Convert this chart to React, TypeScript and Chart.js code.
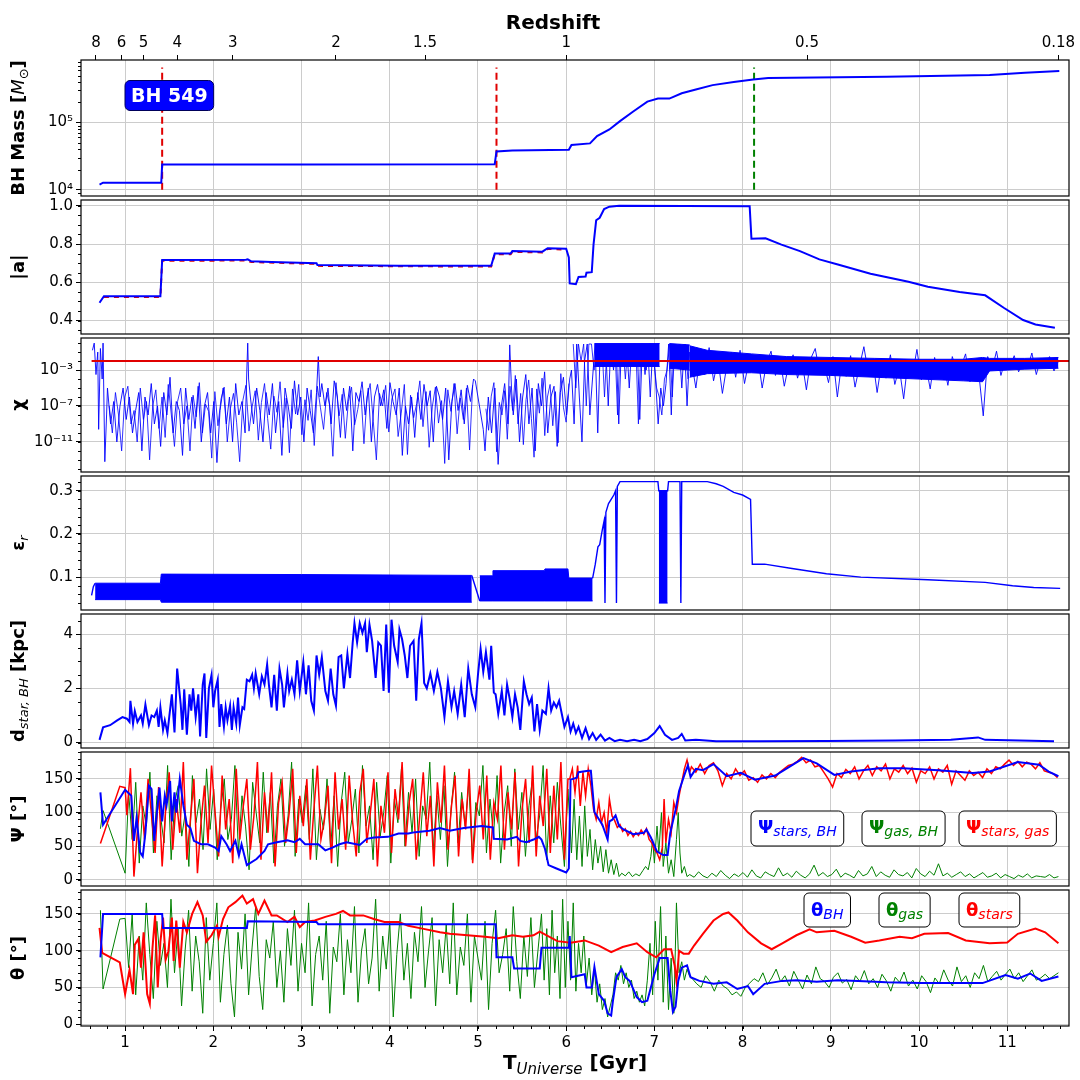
import { useEffect, useRef } from "react";
import { Chart, registerables } from "chart.js";

Chart.register(...registerables);

type XY = [number, number];
type Band = [number, number, number];
type Part = { t: string; f: string; c?: string; dy?: number };

const FONT = "'DejaVu Sans', sans-serif";
const BLUE = "#0000ff";
const RED = "#ff0000";
const GREEN = "#008000";
const GRID = "#cccccc";

// shared time axis (Gyr) and the redshift ticks on top
const tMin = 0.5;
const tMax = 11.7;
const tTicks = [1, 2, 3, 4, 5, 6, 7, 8, 9, 10, 11];
const zLabels = ["8", "6", "5", "4", "3", "2", "1.5", "1", "0.5", "0.18"];
const zAtT = [0.67, 0.96, 1.21, 1.59, 2.22, 3.39, 4.4, 6.0, 8.73, 11.58];

// --- BH mass
const massTicks = [1e4, 1e5];
const bhMass: XY[] = [
  [0.71, 1.2e4], [0.75, 1.28e4], [1.41, 1.28e4], [1.42, 2.37e4], [3.0, 2.39e4], [5.19, 2.4e4],
  [5.21, 3.72e4], [5.39, 3.85e4], [6.03, 3.95e4], [6.06, 4.65e4], [6.27, 4.9e4], [6.35, 6.3e4],
  [6.49, 7.9e4], [6.61, 1.05e5], [6.76, 1.46e5], [6.92, 2.05e5], [7.04, 2.27e5], [7.17, 2.27e5],
  [7.31, 2.72e5], [7.47, 3.1e5], [7.66, 3.6e5], [7.9, 4.0e5], [8.12, 4.35e5], [8.29, 4.6e5],
  [9.63, 4.8e5], [10.8, 5.1e5], [11.2, 5.5e5], [11.59, 5.85e5],
];
const mergerA: XY[] = [[1.42, 1e4], [1.42, 6.6e5]];
const mergerB: XY[] = [[5.21, 1e4], [5.21, 6.6e5]];
const mergerC: XY[] = [[8.13, 1e4], [8.13, 6.6e5]];

// --- spin |a|
const spinTicks = [0.4, 0.6, 0.8, 1.0];
const spinBH: XY[] = [
  [0.71, 0.493], [0.76, 0.527], [1.4, 0.527], [1.42, 0.716], [2.37, 0.718], [2.39, 0.72], [2.43, 0.71],
  [2.66, 0.706], [3.17, 0.7], [3.18, 0.69], [4.1, 0.686], [5.15, 0.686], [5.19, 0.75], [5.37, 0.75],
  [5.39, 0.763], [5.73, 0.76], [5.79, 0.778], [6.0, 0.775], [6.03, 0.73], [6.04, 0.594], [6.11, 0.59],
  [6.14, 0.628], [6.22, 0.63], [6.23, 0.65], [6.29, 0.653], [6.31, 0.797], [6.34, 0.924], [6.38, 0.937],
  [6.43, 0.983], [6.49, 0.995], [6.6, 1.0], [8.08, 0.997], [8.1, 0.828], [8.26, 0.83], [8.44, 0.797],
  [8.65, 0.763], [8.87, 0.72], [9.09, 0.692], [9.45, 0.645], [9.88, 0.603], [10.1, 0.577],
  [10.46, 0.549], [10.75, 0.532], [10.96, 0.467], [11.18, 0.403], [11.32, 0.38], [11.54, 0.363],
];
const spinAlt: XY[] = [
  [0.76, 0.523], [1.4, 0.523], [1.42, 0.712], [2.37, 0.714], [2.43, 0.706], [3.17, 0.696], [3.18, 0.686],
  [5.15, 0.682], [5.19, 0.746], [5.37, 0.746], [5.39, 0.759], [5.73, 0.756], [5.79, 0.774], [6.0, 0.771],
];

// --- chi (log10 values)
const chiTicks = [1e-11, 1e-7, 1e-3];
const chiLimit: XY[] = [[0.62, 0.01], [11.7, 0.01]];
const chiHead: XY[] = [
  [0.63, -0.8], [0.65, 0], [0.67, -3.5], [0.69, -1], [0.7, -9.6], [0.72, -0.6], [0.74, -4], [0.75, 0],
  [0.77, -13.2], [0.79, -8],
];
const chiA = [
  -5, -9, -6.5, -11, -7, -5, -8.5, -6, -10, -7.5, -5.5, -12, -6, -8, -4.5, -9, -7, -11.5, -5.5, -8, -3.8,
  -10, -6.5, -7.5, -12.5, -5, -8.5, -6, -9.5, -4.8, -11, -7, -5.5, -10, -6.5, -13.3, -7.5, -5, -9, -6, -11,
  -4.5, -8, -6.5, -10,
];
const chiSpikeA: XY[] = [[2.38, -3], [2.39, 0], [2.4, -4]];
const chiB = [
  -6, -9, -5, -7.5, -11, -5.5, -8, -4.5, -10, -6.5, -12.5, -5, -7, -9.5, -4.2, -8, -6, -11, -5, -7.5, -10, -5.5,
];
const chiSpikeB: XY[] = [[3.19, -1.5], [3.21, -6]];
const chiC = [
  -4.5, -7, -5, -9, -4.2, -6, -10.5, -5, -7.5, -4.8, -12, -5.5, -6.5, -4.3, -8, -5, -11, -6, -4.6, -7, -5.2,
  -9.5, -4.4, -6.5, -8, -5, -12.5, -7, -9, -6, -10.5, -5.5, -8.5, -4.6, -7, -5.3, -11, -4.8, -6, -8.5, -5,
  -13, -6.5, -4.5, -7.5, -5.2, -9, -4.7, -6.5, -4,
];
const chiSmooth: XY[] = [[4.97, -4.2], [5.06, -9.6]];
const chiD = [-12, -6, -10, -5, -13.5, -7, -4.5, -9];
const chiSpikeC: XY[] = [[5.36, -0.2], [5.38, -5]];
const chiE = [-8, -4, -11, -6, -3.5, -9, -5, -12, -4.5, -7, -3.2, -10, -6, -4.8, -11.5, -5.5, -3.8, -8, -4];
const chiF = [
  -3, -9, -0.1, -6, -11, -2, -0.1, -8, -4, -0.1, -10, -0.1, -2.5, -0.1, -7, -0.1, -3, -0.1, -9, -0.1, -1.5,
  -0.1, -5, -0.1, -2, -0.1, -8.5, -0.1, -3.5, -0.1, -6, -0.1, -4, -9, -5, -7, -4.5, -0.1, -8, -0.1, -2,
  -0.1, -5, -0.1, -7, -1,
];
const chiG = [
  -2, -5, -1.2, -3.5, -0.5, -4.2, -1.8, -5.6, -2.5, -1, -3.8, -0.8, -4.5, -2, -3.2, -1.5, -5, -2.2, -0.9, -3.6,
  -1.6, -4.8, -2.4, -1.3, -3.9, -2, -5.2, -1.7, -0.6, -3.4, -2.3, -4.4, -1.5, -6, -2.1, -3.7, -1.4, -4.9, -2.6, -0.4,
  -3.3, -1.8, -5.5, -2.2, -3.9, -1.3, -4.6, -2.7, -6.2, -1.9, -3.5, -0.7, -4.1, -2.4, -5.1, -1.6, -3.8, -2.2, -4.7, -1.5,
  -3.1, -2.6, -1.2, -4.3, -2, -3.4, -8.1, -1.5, -2.9, -0.9, -3.6, -1.8, -2.7, -1.4, -3.2, -2, -2.8, -1.1, -3.5, -1.7,
  -2.6, -1.5, -3.1, -2,
];
// second, interleaved pass of the dense early chi noise
const chiDenseEarly = [
  -7, -10, -5.5, -8, -12, -6, -4.8, -9, -7.5, -11,
  -5, -8.5, -6.5, -13, -7, -5.2, -9.5, -6, -10.5, -4.6,
  -8, -11.5, -6.5, -5, -9, -7, -12, -5.8, -8.2, -4.4,
  -10, -6.8, -7.6, -12.8, -5.4, -9.2, -6.2, -4.9, -11, -7.3,
  -5.6, -8.8, -13.2, -6.4, -4.7, -9.8, -7.1, -5.3, -10.8, -6.6,
  -4.5, -8.4, -11.8, -5.9, -7.7, -4.3, -9.4, -6.1, -12.2, -5.1,
  -7.9, -4.6, -10.2, -6.3, -8.6, -5.2, -11.4, -4.8, -7.2, -9.6,
  -5.5, -6.9, -12.6, -4.4, -8.1, -5.7, -10.6, -6.5, -4.9, -9.1,
  -7.4, -5.3, -11.2, -6, -4.5, -8.7, -13, -5.6, -7, -4.7,
  -9.9, -6.2, -5.1, -10.4, -7.8, -4.6, -12.4, -5.8, -8.3, -6.7,
  -4.2, -9.3, -5.4, -11.6, -7.1, -4.9, -8.9, -6.4, -13.4, -5.2,
  -7.6, -4.5, -10.1, -6.1, -8.5, -5, -11.9, -4.7, -7.3, -9.7,
  -5.9, -4.4, -12.1, -6.6, -8, -5.3, -10.7, -4.8, -7.5, -3.6,
  -9, -5.6, -11.3, -6.3, -4.1, -8.4, -12.7, -5.1, -7.8, -3.9,
  -10.3, -6, -4.6, -9.2, -5.4, -11.1, -3.4, -7.2, -8.8, -4.5,
];
const chiDenseMid = [
  -0.1, -5, -0.1, -2, -0.1, -7, -0.1, -0.1, -3, -0.1, -1, -0.1, -6, -0.1, -0.1, -2.5, -0.1, -8, -0.1, -0.1,
  -4, -0.1, -1.5, -0.1, -0.1, -9, -0.1, -0.1, -3, -0.1, -0.1, -2, -5, -6, -8, -4, -3, -0.1, -6, -0.1,
  -1, -0.1, -3, -0.1, -4,
];
// saturated blocks (dense core of the noise)
const chiBlockA: Band[] = [[6.32, -2.6, -0.05], [7.06, -2.6, -0.05]];
const chiBlockB: Band[] = [[7.17, -2.8, -0.05], [7.4, -3.0, -0.2]];
const chiBand: Band[] = [
  [7.4, -3.8, -0.3], [7.6, -3.4, -0.8], [8.1, -3.3, -1.2], [8.5, -3.5, -1.5], [9.0, -3.6, -1.6],
  [9.5, -3.8, -1.7], [10.0, -4.0, -1.8], [10.5, -4.2, -1.8], [10.72, -4.3, -1.6], [10.8, -3.1, -1.7],
  [11.2, -2.9, -1.7], [11.58, -2.8, -1.6],
];

// --- radiative efficiency
const epsTicks = [0.1, 0.2, 0.3];
const epsBandA: Band[] = [
  [0.66, 0.048, 0.086], [1.4, 0.048, 0.086], [1.41, 0.042, 0.107], [3.0, 0.042, 0.106], [4.93, 0.042, 0.104],
];
const epsBandB: Band[] = [
  [5.02, 0.045, 0.103], [5.16, 0.045, 0.103], [5.17, 0.045, 0.115], [5.75, 0.045, 0.115], [5.76, 0.045, 0.119],
  [6.02, 0.045, 0.119], [6.03, 0.045, 0.098], [6.3, 0.045, 0.098],
];
const epsBandC: Band[] = [[7.05, 0.04, 0.3], [7.15, 0.04, 0.3]];
const epsHead: XY[] = [[0.62, 0.058], [0.64, 0.078], [0.66, 0.086]];
const epsGap: XY[] = [[4.93, 0.104], [5.02, 0.045]];
const epsTail: XY[] = [
  [6.3, 0.098], [6.33, 0.13], [6.36, 0.17], [6.38, 0.175], [6.41, 0.21], [6.43, 0.23], [6.44, 0.24],
  [6.44, 0.04], [6.45, 0.25], [6.48, 0.27], [6.51, 0.28], [6.54, 0.29], [6.56, 0.3], [6.57, 0.04],
  [6.58, 0.31], [6.61, 0.321], [7.04, 0.321], [7.05, 0.3], [7.15, 0.3], [7.16, 0.321], [7.29, 0.321],
  [7.3, 0.04], [7.31, 0.321], [7.6, 0.321], [7.7, 0.316], [7.78, 0.31], [7.9, 0.296], [8.0, 0.29],
  [8.09, 0.28], [8.11, 0.13], [8.25, 0.13], [8.56, 0.12], [8.95, 0.108], [9.34, 0.1], [10.1, 0.094],
  [10.75, 0.088], [11.06, 0.08], [11.3, 0.076], [11.6, 0.074],
];

// --- star-BH distance
const dTicks = [0, 2, 4];
const dStarBH: XY[] = [
  [0.71, 0.1], [0.75, 0.56], [0.83, 0.64], [0.91, 0.82], [0.97, 0.94], [1.02, 0.88], [1.05, 0.76], [1.06, 1.54],
  [1.09, 0.7], [1.11, 1.16], [1.14, 0.76], [1.18, 1.0], [1.2, 0.7], [1.23, 1.4], [1.27, 0.64], [1.3, 1.0],
  [1.33, 0.94], [1.36, 1.18], [1.38, 0.58], [1.4, 1.3], [1.43, 0.47], [1.45, 0.82], [1.48, 0.35], [1.5, 0.94],
  [1.53, 1.78], [1.56, 0.37], [1.59, 2.73], [1.63, 1.42], [1.65, 0.47], [1.67, 1.96], [1.7, 0.29], [1.73, 1.78],
  [1.75, 1.18], [1.77, 2.0], [1.8, 0.94], [1.83, 1.78], [1.85, 0.23], [1.88, 2.14], [1.9, 2.55], [1.92, 0.17],
  [1.95, 2.0], [1.98, 2.5], [2.0, 1.3], [2.02, 1.9], [2.05, 2.32], [2.07, 0.58], [2.09, 1.42], [2.12, 0.58],
  [2.14, 1.3], [2.16, 0.82], [2.19, 1.36], [2.21, 0.47], [2.23, 1.3], [2.26, 0.7], [2.28, 1.66], [2.3, 0.64],
  [2.33, 1.3], [2.35, 1.24], [2.38, 2.32], [2.41, 2.26], [2.44, 2.5], [2.46, 2.0], [2.48, 2.55], [2.52, 1.78],
  [2.55, 2.44], [2.58, 2.14], [2.61, 2.88], [2.63, 2.14], [2.66, 1.3], [2.69, 2.5], [2.72, 1.18], [2.75, 2.73],
  [2.78, 2.14], [2.8, 1.3], [2.84, 2.55], [2.86, 1.9], [2.89, 2.32], [2.92, 1.78], [2.95, 3.03], [2.98, 1.9],
  [3.02, 2.97], [3.05, 1.78], [3.08, 2.85], [3.11, 1.54], [3.14, 1.18], [3.17, 3.21], [3.2, 2.5], [3.23, 3.15],
  [3.27, 1.9], [3.3, 1.54], [3.33, 2.73], [3.36, 1.78], [3.39, 1.36], [3.42, 3.15], [3.45, 3.21], [3.48, 2.0],
  [3.52, 3.27], [3.55, 2.38], [3.58, 3.69], [3.6, 4.4], [3.63, 3.69], [3.66, 4.4], [3.69, 4.05], [3.72, 4.4],
  [3.74, 3.33], [3.77, 4.35], [3.8, 3.75], [3.84, 2.38], [3.87, 3.69], [3.9, 3.57], [3.93, 1.9], [3.96, 4.35],
  [3.99, 1.84], [4.02, 4.53], [4.05, 3.57], [4.09, 2.97], [4.11, 4.17], [4.14, 3.81], [4.17, 3.21], [4.2, 2.38],
  [4.23, 3.57], [4.27, 3.75], [4.3, 1.54], [4.33, 3.81], [4.36, 4.4], [4.39, 2.2], [4.42, 2.0], [4.46, 2.55],
  [4.5, 1.9], [4.54, 2.61], [4.58, 2.0], [4.62, 0.94], [4.66, 2.26], [4.7, 1.3], [4.73, 1.9], [4.77, 1.06],
  [4.81, 2.14], [4.85, 0.94], [4.89, 2.73], [4.93, 1.78], [4.97, 1.3], [5.0, 2.5], [5.03, 3.45], [5.06, 2.61],
  [5.09, 3.33], [5.13, 2.32], [5.15, 3.57], [5.18, 1.84], [5.2, 1.78], [5.23, 1.06], [5.27, 1.9], [5.3, 1.0],
  [5.33, 2.14], [5.36, 1.6], [5.39, 0.94], [5.42, 1.78], [5.45, 1.3], [5.48, 0.47], [5.52, 2.26], [5.55, 1.78],
  [5.58, 1.42], [5.61, 1.66], [5.64, 0.41], [5.67, 1.42], [5.7, 0.47], [5.73, 1.18], [5.77, 1.06], [5.8, 2.0],
  [5.83, 1.18], [5.86, 1.48], [5.89, 1.3], [5.92, 1.54], [5.95, 1.06], [5.98, 0.58], [6.02, 0.94], [6.05, 0.41],
  [6.08, 0.7], [6.11, 0.35], [6.14, 0.58], [6.18, 0.17], [6.22, 0.53], [6.26, 0.13], [6.3, 0.35], [6.34, 0.1],
  [6.39, 0.29], [6.44, 0.07], [6.49, 0.17], [6.55, 0.05], [6.61, 0.1], [6.69, 0.05], [6.77, 0.1], [6.84, 0.05],
  [6.92, 0.13], [7.0, 0.35], [7.06, 0.61], [7.12, 0.29], [7.2, 0.1], [7.27, 0.17], [7.31, 0.32], [7.35, 0.08],
  [7.47, 0.1], [7.7, 0.05], [8.17, 0.05], [8.95, 0.06], [9.73, 0.08], [10.36, 0.1], [10.67, 0.19], [10.75, 0.1],
  [11.53, 0.05],
];

// --- Psi angles (deg)
const angTicks = [0, 50, 100, 150];
const psiStarsBH: XY[] = [
  [0.72, 130], [0.75, 82], [1.0, 134], [1.07, 125], [1.1, 58], [1.13, 92], [1.17, 41], [1.2, 35], [1.23, 70],
  [1.27, 140], [1.3, 135], [1.33, 58], [1.36, 100], [1.39, 137], [1.42, 87], [1.45, 125], [1.47, 111],
  [1.51, 147], [1.53, 87], [1.56, 130], [1.58, 100], [1.62, 150], [1.66, 111], [1.7, 82], [1.74, 77],
  [1.78, 58], [1.86, 53], [1.94, 53], [2.02, 48], [2.06, 43], [2.09, 65], [2.15, 53], [2.19, 43], [2.25, 58],
  [2.29, 36], [2.32, 53], [2.38, 22], [2.49, 31], [2.58, 43], [2.62, 53], [2.72, 56], [2.84, 59], [2.92, 56],
  [2.98, 61], [3.04, 53], [3.19, 53], [3.27, 44], [3.35, 48], [3.43, 53], [3.51, 56], [3.66, 52], [3.74, 61],
  [3.82, 63], [3.98, 64], [4.1, 69], [4.21, 69], [4.29, 71], [4.45, 73], [4.57, 77], [4.68, 73], [4.84, 77],
  [5.04, 80], [5.17, 78], [5.18, 61], [5.33, 60], [5.44, 64], [5.48, 58], [5.55, 56], [5.63, 60], [5.69, 64],
  [5.72, 60], [5.76, 46], [5.8, 22], [5.89, 17], [6.0, 11], [6.03, 17], [6.05, 149], [6.12, 152], [6.14, 160],
  [6.25, 162], [6.28, 162], [6.32, 101], [6.41, 82], [6.47, 60], [6.49, 87], [6.52, 89], [6.56, 96], [6.6, 80],
  [6.65, 75], [6.76, 68], [6.88, 70], [6.91, 75], [6.96, 63], [7.03, 42], [7.1, 37], [7.15, 37], [7.18, 70],
  [7.24, 104], [7.28, 132], [7.34, 156], [7.38, 170], [7.41, 153], [7.47, 165], [7.55, 163], [7.67, 172],
  [7.82, 154], [7.98, 159], [8.14, 149], [8.37, 155], [8.69, 181], [8.84, 173], [9.04, 156], [9.23, 161],
  [9.55, 166], [9.82, 166], [10.22, 163], [10.61, 159], [10.8, 161], [11.12, 175], [11.36, 171], [11.47, 161],
  [11.58, 154],
];
const psiSGHead: XY[] = [[0.72, 54], [0.94, 139], [1.0, 137]];
const psiSGNoisy = [
  96, 166, 5, 74, 130, 60, 150, 95, 40, 138, 20, 105, 160, 45, 120, 70, 175, 30, 90, 150,
  10, 85, 140, 55, 170, 100, 35, 155, 75, 120, 25, 165, 60, 110, 150, 45, 95, 175, 30, 130,
  70, 160, 20, 115, 145, 55, 100, 165, 40, 125, 80, 150, 30, 105, 170, 60, 90, 140, 25, 160,
  75, 120, 45, 155, 85, 35, 130, 165, 55, 100, 150, 20, 110, 70, 160, 40, 135, 90, 175, 50,
  115, 150, 30, 95, 160, 65, 125, 20, 145, 85, 170, 45, 110, 155, 35, 120, 75, 165, 25, 100,
  140, 60, 155, 30, 115, 90, 170, 45, 130, 75, 160, 20, 105, 150, 55, 170, 35, 125, 80, 165,
  40, 140, 60, 175, 30, 150,
];
const psiSGMid: XY[] = [
  [6.04, 150], [6.07, 165], [6.1, 130], [6.13, 170], [6.16, 110], [6.19, 160], [6.22, 125], [6.25, 165],
  [6.28, 140], [6.31, 105], [6.34, 90], [6.37, 115], [6.4, 85], [6.43, 100], [6.46, 70], [6.49, 120],
  [6.52, 95], [6.55, 88], [6.58, 78], [6.61, 82], [6.64, 72], [6.67, 76], [6.7, 66], [6.73, 72], [6.76, 64],
  [6.79, 70], [6.82, 66], [6.85, 74], [6.88, 68], [6.91, 76], [6.94, 60], [6.97, 55], [7.0, 45], [7.03, 40],
  [7.06, 30], [7.09, 48], [7.11, 120], [7.13, 55], [7.16, 90], [7.19, 70], [7.22, 115], [7.25, 100],
  [7.28, 125], [7.31, 145], [7.34, 165], [7.37, 178], [7.4, 160],
];
const psiSGLate = [
  168, 160, 172, 158, 170, 174, 162, 140, 158, 150, 165, 155, 162, 148, 152, 145, 156, 150, 158, 152,
  160, 165, 170, 172, 176, 182, 174, 178, 168, 170, 160, 150, 138, 158, 152, 164, 158, 168, 150, 162,
  170, 155, 168, 162, 172, 150, 165, 160, 170, 158, 166, 145, 162, 158, 168, 150, 165, 160, 170, 142,
  162, 155, 148, 162, 155, 160, 152, 165, 158, 168, 165, 172, 178, 170, 176, 168, 175, 172, 165, 174,
  162, 160, 158, 152,
];
const psiGasHead: XY[] = [[0.72, 76], [0.75, 103], [1.0, 10]];
const psiGasNoisy = [
  130, 60, 145, 25, 110, 80, 160, 40, 125, 95, 55, 170, 30, 115, 140, 65, 100, 20, 155, 85,
  120, 45, 165, 75, 135, 30, 105, 150, 60, 90, 170, 40, 125, 80, 15, 145, 100, 55, 160, 70,
  130, 25, 110, 150, 50, 95, 175, 35, 120, 85, 140, 60, 165, 30, 105, 75, 150, 45, 125, 20,
  115, 160, 55, 90, 135, 40, 170, 80, 110, 30, 145, 65, 100, 155, 25, 120, 85, 165, 50, 130,
  70, 150, 35, 110, 90, 175, 45, 125, 60, 140, 20, 105, 160, 55, 130, 80, 145, 30, 115, 95,
  170, 40, 120, 65, 155, 25, 100, 140, 50, 165, 75, 130, 35, 110, 150, 60, 95, 170, 30, 125,
  55, 145, 80, 20, 135,
];
const psiGasMid: XY[] = [
  [6.06, 40], [6.09, 120], [6.12, 30], [6.15, 95], [6.18, 20], [6.21, 110], [6.24, 35], [6.27, 75],
  [6.3, 15], [6.33, 60], [6.36, 25], [6.39, 50], [6.42, 12], [6.45, 45], [6.48, 10], [6.51, 30], [6.54, 8],
  [6.57, 25], [6.6, 5], [6.63, 10], [6.67, 6], [6.71, 12], [6.75, 5], [6.79, 9], [6.83, 6], [6.87, 14],
  [6.9, 20], [6.93, 15], [6.96, 35], [6.98, 60], [7.0, 25], [7.03, 80], [7.05, 40], [7.08, 100], [7.1, 20],
  [7.13, 55], [7.16, 10], [7.19, 30], [7.22, 5], [7.25, 60], [7.27, 100], [7.29, 40], [7.31, 10],
  [7.34, 20], [7.37, 5],
];
const psiGasLate = [
  8, 4, 12, 6, 3, 10, 5, 14, 7, 2, 9, 5, 11, 4, 15, 6, 3, 12, 8, 5,
  18, 6, 10, 4, 13, 7, 3, 9, 22, 6, 11, 5, 8, 16, 4, 10, 7, 3, 14, 6,
  9, 20, 5, 12, 7, 4, 15, 8, 6, 11, 3, 17, 9, 5, 13, 7, 24, 6, 10, 4,
  8, 12, 5, 9, 3, 7, 11, 4, 6, 10, 3, 8, 5, 2, 7, 4, 9, 3, 6, 5,
  4, 8, 3, 5,
];

// --- theta angles (deg)
const thetaBH: XY[] = [
  [0.72, 91], [0.75, 150], [1.42, 150], [1.43, 131], [2.38, 131], [2.39, 140], [3.17, 139], [3.19, 136],
  [5.2, 136], [5.21, 91], [5.39, 91], [5.41, 76], [5.7, 76], [5.72, 104], [6.03, 104], [6.04, 120],
  [6.06, 64], [6.21, 68], [6.23, 50], [6.29, 50], [6.32, 78], [6.37, 41], [6.43, 32], [6.47, 15], [6.51, 12],
  [6.53, 32], [6.57, 64], [6.63, 75], [6.67, 64], [6.72, 59], [6.8, 37], [6.86, 30], [6.92, 32], [7.0, 68],
  [7.06, 90], [7.15, 90], [7.18, 46], [7.21, 17], [7.24, 24], [7.27, 59], [7.31, 77], [7.37, 80],
  [7.41, 64], [7.51, 59], [7.67, 55], [7.82, 57], [7.94, 48], [8.06, 52], [8.12, 41], [8.25, 55],
  [8.45, 59], [8.61, 60], [8.84, 58], [9.08, 60], [9.31, 59], [9.63, 57], [10.02, 56], [10.72, 56],
  [10.98, 67], [11.12, 62], [11.26, 69], [11.39, 59], [11.58, 65],
];
const thetaStars: XY[] = [
  [0.71, 131], [0.74, 97], [0.94, 84], [1.0, 41], [1.05, 74], [1.09, 41], [1.11, 108], [1.15, 116],
  [1.18, 77], [1.21, 125], [1.25, 41], [1.28, 28], [1.31, 103], [1.34, 148], [1.37, 50], [1.4, 112],
  [1.43, 145], [1.46, 88], [1.49, 99], [1.53, 145], [1.55, 86], [1.58, 141], [1.62, 77], [1.66, 139],
  [1.7, 125], [1.76, 150], [1.82, 166], [1.88, 148], [1.92, 112], [1.98, 121], [2.04, 134], [2.06, 119],
  [2.11, 143], [2.17, 159], [2.25, 166], [2.33, 175], [2.38, 164], [2.45, 170], [2.51, 150], [2.58, 168],
  [2.66, 148], [2.72, 148], [2.84, 139], [2.92, 146], [2.98, 132], [3.04, 139], [3.15, 141], [3.27, 146],
  [3.39, 150], [3.47, 154], [3.55, 148], [3.7, 148], [3.82, 143], [3.94, 139], [4.1, 139], [4.21, 134],
  [4.37, 130], [4.57, 125], [4.68, 123], [4.88, 121], [5.08, 119], [5.23, 117], [5.39, 121], [5.51, 119],
  [5.63, 121], [5.7, 126], [5.9, 113], [6.05, 111], [6.21, 114], [6.37, 107], [6.51, 98], [6.64, 105],
  [6.8, 110], [6.92, 98], [7.02, 91], [7.11, 102], [7.19, 102], [7.23, 80], [7.25, 59], [7.27, 85],
  [7.28, 100], [7.33, 96], [7.39, 96], [7.45, 107], [7.55, 123], [7.67, 141], [7.78, 150], [7.84, 152],
  [7.94, 141], [8.06, 125], [8.21, 110], [8.33, 102], [8.45, 110], [8.61, 121], [8.76, 129], [8.84, 125],
  [9.04, 127], [9.23, 119], [9.39, 111], [9.55, 114], [9.78, 119], [9.92, 117], [10.06, 123], [10.33, 124],
  [10.53, 114], [10.8, 110], [11.0, 111], [11.12, 123], [11.32, 130], [11.43, 125], [11.58, 110],
];
const thetaGasHead: XY[] = [[0.72, 155], [0.75, 48], [0.94, 143], [1.0, 144]];
const thetaGasNoisy = [
  77, 150, 40, 120, 60, 165, 95, 35, 140, 80, 110, 50, 170, 70, 130, 25, 100, 155, 45, 120,
  85, 15, 145, 60, 110, 165, 30, 95, 135, 55, 10, 125, 75, 150, 40, 105, 160, 65, 20, 115,
  90, 140, 50, 100, 30, 130, 80, 155, 45, 110, 70, 165, 25, 95, 120, 60, 140, 15, 105, 85,
  150, 40, 115, 70, 160, 30, 100, 130, 55, 90, 170, 45, 120, 75, 140, 10, 95, 150, 60, 110,
  35, 125, 85, 160, 50, 100, 145, 25, 115, 70, 135, 55, 165, 40, 105, 80, 150, 30, 120, 90,
  60, 140, 20, 110, 155, 70, 95, 130, 45, 160, 85, 35, 120, 65, 145, 50, 100,
];
const thetaGasMid: XY[] = [
  [5.72, 150], [5.75, 60], [5.78, 130], [5.81, 40], [5.84, 155], [5.87, 70], [5.9, 120], [5.93, 35],
  [5.96, 170], [5.99, 50], [6.02, 140], [6.05, 60], [6.08, 165], [6.11, 45], [6.14, 110], [6.17, 70],
  [6.2, 120], [6.23, 55], [6.26, 90], [6.29, 40], [6.32, 75], [6.35, 30], [6.38, 55], [6.41, 20],
  [6.44, 35], [6.47, 10], [6.5, 25], [6.53, 40], [6.56, 70], [6.59, 60], [6.62, 80], [6.65, 55],
  [6.68, 70], [6.71, 50], [6.74, 60], [6.77, 35], [6.8, 45], [6.83, 30], [6.86, 40], [6.89, 25],
  [6.92, 60], [6.95, 110], [6.98, 40], [7.01, 140], [7.04, 60], [7.07, 160], [7.1, 30], [7.13, 120],
  [7.16, 20], [7.19, 90], [7.22, 15], [7.25, 165], [7.28, 70], [7.31, 85], [7.34, 60], [7.37, 75], [7.4, 65],
];
const thetaGasLate = [
  62, 55, 50, 66, 58, 45, 60, 52, 48, 40, 44, 38, 50, 56, 62, 58, 70, 54, 63, 75,
  58, 66, 52, 72, 60, 48, 67, 55, 78, 62, 58, 50, 64, 70, 56, 61, 47, 66, 58, 73,
  55, 62, 50, 68, 59, 45, 64, 57, 71, 52, 60, 48, 66, 58, 43, 63, 55, 74, 60, 52,
  78, 58, 66, 50, 70, 62, 80, 58, 65, 72, 60, 68, 75, 62, 70, 58, 66, 74, 60, 63,
  68, 62, 66, 70,
];

// ---------- helpers
const same = (v: number) => v;
const pow10 = (v: number) => 10 ** v;
const pts = (a: XY[], f = same) => a.map(([x, y]) => ({ x, y: f(y) }));
const spread = (t0: number, t1: number, vals: number[], f = same) =>
  vals.map((v, i) => ({ x: t0 + ((t1 - t0) * i) / (vals.length - 1), y: f(v) }));

const line = (data: any[], color: string, width: number, extra: any = {}) => ({
  data,
  borderColor: color,
  backgroundColor: color,
  borderWidth: width,
  pointRadius: 0,
  fill: false,
  tension: 0,
  ...extra,
});
const bandSets = (b: Band[], color: string, f = same) => [
  line(b.map(([x, lo]) => ({ x, y: f(lo) })), color, 1),
  line(b.map(([x, , hi]) => ({ x, y: f(hi) })), color, 1, { fill: "-1", backgroundColor: color }),
];

const SUP: Record<string, string> = {
  "-": "⁻", "0": "⁰", "1": "¹", "2": "²", "3": "³", "4": "⁴", "5": "⁵", "6": "⁶", "7": "⁷", "8": "⁸", "9": "⁹",
};
const pow10Label = (v: number) =>
  "10" + String(Math.round(Math.log10(v))).split("").map((c) => SUP[c]).join("");

const B18 = `bold 18px ${FONT}`;
const I18 = `italic 18px ${FONT}`;
const I13 = `italic 13px ${FONT}`;
const BOX_MAIN = `bold 18px ${FONT}`;
const BOX_SUB = `italic 14px ${FONT}`;

type Box = { x: number; cy: number; h: number; pad: number; base: number; parts: Part[]; fill: string; stroke: string };
type Panel = {
  key: string;
  yType: "linear" | "logarithmic";
  yMin: number;
  yMax: number;
  yTicks: number[];
  yFmt: (v: number) => string;
  minorStep?: number;
  minorLog?: number[];
  label: Part[];
  datasets: any[];
  boxes?: Box[];
};

const E = [60, 198, 336, 474, 612, 750, 888, 1026];

const psiBox = (x: number, sub: string, c: string): Box => ({
  x, cy: 828.5, h: 35, pad: 7, base: 4, fill: "rgba(255,255,255,0.85)", stroke: "#000",
  parts: [{ t: "Ψ", f: BOX_MAIN, c }, { t: sub, f: BOX_SUB, c, dy: 3.5 }],
});
const thBox = (x: number, sub: string, c: string): Box => ({
  x, cy: 910, h: 34, pad: 7, base: 6, fill: "rgba(255,255,255,0.85)", stroke: "#000",
  parts: [{ t: "θ", f: BOX_MAIN, c }, { t: sub, f: BOX_SUB, c, dy: 2.6 }],
});

const PANELS: Panel[] = [
  {
    key: "mass", yType: "logarithmic", yMin: 8.1e3, yMax: 8.5e5,
    yTicks: massTicks, yFmt: pow10Label, minorLog: [2, 3, 4, 5, 6, 7, 8, 9],
    label: [{ t: "BH Mass [", f: B18 }, { t: "M", f: I18 }, { t: "⊙", f: `13px ${FONT}`, dy: 4 }, { t: "]", f: B18 }],
    datasets: [
      line(pts(bhMass), BLUE, 2),
      line(pts(mergerA), "#e00000", 2, { borderDash: [7, 4] }),
      line(pts(mergerB), "#e00000", 2, { borderDash: [7, 4] }),
      line(pts(mergerC), GREEN, 2, { borderDash: [7, 4] }),
    ],
    boxes: [{
      x: 125, cy: 95.5, h: 30, pad: 6, base: 6.5, fill: BLUE, stroke: "#00005a",
      parts: [{ t: "BH 549", f: `bold 19px ${FONT}`, c: "#ffffff" }],
    }],
  },
  {
    key: "spin", yType: "linear", yMin: 0.33, yMax: 1.03,
    yTicks: spinTicks, yFmt: (v) => v.toFixed(1), minorStep: 0.05,
    label: [{ t: "|a|", f: B18 }],
    datasets: [line(pts(spinBH), BLUE, 2), line(pts(spinAlt), "#e00000", 2, { borderDash: [5, 5] })],
  },
  {
    key: "chi", yType: "logarithmic", yMin: 4.5e-15, yMax: 3.7,
    yTicks: chiTicks, yFmt: pow10Label, minorLog: [1],
    label: [{ t: "χ", f: B18 }],
    datasets: [
      line(pts(chiLimit), "#e00000", 2),
      line(
        [
          ...pts(chiHead, pow10),
          ...spread(0.8, 2.36, chiA, pow10),
          ...pts(chiSpikeA, pow10),
          ...spread(2.42, 3.17, chiB, pow10),
          ...pts(chiSpikeB, pow10),
          ...spread(3.23, 4.95, chiC, pow10),
          ...pts(chiSmooth, pow10),
          ...spread(5.08, 5.34, chiD, pow10),
          ...pts(chiSpikeC, pow10),
          ...spread(5.4, 6.04, chiE, pow10),
          ...spread(6.06, 7.4, chiF, pow10),
          ...spread(7.42, 11.58, chiG, pow10),
        ],
        BLUE,
        0.9,
      ),
      line(spread(0.82, 4.94, chiDenseEarly.slice(0, 118), pow10), BLUE, 0.8),
      line(spread(5.09, 6.03, chiDenseEarly.slice(118), pow10), BLUE, 0.8),
      line(spread(6.08, 7.38, chiDenseMid, pow10), BLUE, 0.8),
      ...bandSets(chiBlockA, BLUE, pow10),
      ...bandSets(chiBlockB, BLUE, pow10),
      ...bandSets(chiBand, BLUE, pow10),
    ],
  },
  {
    key: "eps", yType: "linear", yMin: 0.024, yMax: 0.334,
    yTicks: epsTicks, yFmt: (v) => v.toFixed(1), minorStep: 0.02,
    label: [{ t: "ε", f: B18 }, { t: "r", f: I13, dy: 4 }],
    datasets: [
      line(pts(epsHead), BLUE, 1.4),
      line(pts(epsGap), BLUE, 1.4),
      line(pts(epsTail), BLUE, 1.4),
      ...bandSets(epsBandA, BLUE),
      ...bandSets(epsBandB, BLUE),
      ...bandSets(epsBandC, BLUE),
    ],
  },
  {
    key: "dist", yType: "linear", yMin: -0.2, yMax: 4.74,
    yTicks: dTicks, yFmt: (v) => String(v), minorStep: 0.5,
    label: [{ t: "d", f: B18 }, { t: "star, BH", f: I13, dy: 4 }, { t: " [kpc]", f: B18 }],
    datasets: [line(pts(dStarBH), BLUE, 2)],
  },
  {
    key: "psi", yType: "linear", yMin: -9, yMax: 190,
    yTicks: angTicks, yFmt: (v) => String(v), minorStep: 10,
    label: [{ t: "Ψ [°]", f: B18 }],
    datasets: [
      line(pts(psiStarsBH), BLUE, 2),
      line(
        [...pts(psiSGHead), ...spread(1.02, 6.02, psiSGNoisy), ...pts(psiSGMid), ...spread(7.42, 11.57, psiSGLate)],
        RED,
        1.5,
      ),
      line(
        [...pts(psiGasHead), ...spread(1.04, 6.02, psiGasNoisy), ...pts(psiGasMid), ...spread(7.4, 11.58, psiGasLate)],
        GREEN,
        1,
      ),
    ],
    boxes: [psiBox(751, "stars, BH", BLUE), psiBox(862, "gas, BH", GREEN), psiBox(959, "stars, gas", RED)],
  },
  {
    key: "theta", yType: "linear", yMin: -2.3, yMax: 182.5,
    yTicks: angTicks, yFmt: (v) => String(v), minorStep: 10,
    label: [{ t: "θ [°]", f: B18 }],
    datasets: [
      line(pts(thetaBH), BLUE, 2),
      line(pts(thetaStars), RED, 2),
      line(
        [...pts(thetaGasHead), ...spread(1.04, 5.68, thetaGasNoisy), ...pts(thetaGasMid), ...spread(7.43, 11.58, thetaGasLate)],
        GREEN,
        1,
      ),
    ],
    boxes: [thBox(804, "BH", BLUE), thBox(879, "gas", GREEN), thBox(959, "stars", RED)],
  },
];

function partsWidth(ctx: CanvasRenderingContext2D, parts: Part[]) {
  let w = 0;
  for (const s of parts) {
    ctx.font = s.f;
    w += ctx.measureText(s.t).width;
  }
  return w;
}

function drawParts(ctx: CanvasRenderingContext2D, parts: Part[], x: number, y: number, color: string) {
  let cx = x;
  for (const s of parts) {
    ctx.font = s.f;
    ctx.fillStyle = s.c ?? color;
    ctx.fillText(s.t, cx, y + (s.dy ?? 0));
    cx += ctx.measureText(s.t).width;
  }
}

function geometry(i: number) {
  const first = i === 0;
  const last = i === PANELS.length - 1;
  const oy = first ? 0 : E[i] - 10;
  const h = last ? 1080 - oy : E[i + 1] + 10 - oy;
  return { first, last, oy, h };
}

function makeDecor(p: Panel, i: number) {
  const { first, last, oy } = geometry(i);
  return {
    id: "decor_" + p.key,
    afterDraw(chart: any) {
      const ctx: CanvasRenderingContext2D = chart.ctx;
      const a = chart.chartArea;
      const ys = chart.scales.y;
      ctx.save();
      ctx.strokeStyle = "#000";
      ctx.lineWidth = 1;

      // minor ticks on the y axis
      const minors: number[] = [];
      if (p.minorLog) {
        for (let e = Math.floor(Math.log10(ys.min)); e <= Math.ceil(Math.log10(ys.max)); e++) {
          for (const k of p.minorLog) minors.push(k * 10 ** e);
        }
      } else if (p.minorStep) {
        const s = p.minorStep;
        for (let k = Math.ceil(ys.min / s); k * s <= ys.max; k++) minors.push(k * s);
      }
      for (const v of minors) {
        if (v < ys.min || v > ys.max) continue;
        const py = Math.round(ys.getPixelForValue(v)) + 0.5;
        ctx.beginPath();
        ctx.moveTo(a.left - 3, py);
        ctx.lineTo(a.left, py);
        ctx.stroke();
      }
      if (last) {
        const xs = chart.scales.x;
        for (let k = 3; k * 0.2 <= tMax; k++) {
          const px = Math.round(xs.getPixelForValue(k * 0.2)) + 0.5;
          ctx.beginPath();
          ctx.moveTo(px, a.bottom);
          ctx.lineTo(px, a.bottom + 3);
          ctx.stroke();
        }
      }

      // frame
      ctx.lineWidth = 1.2;
      ctx.strokeRect(a.left, a.top, a.right - a.left, a.bottom - a.top);

      // y label
      ctx.textAlign = "left";
      ctx.textBaseline = "alphabetic";
      ctx.save();
      ctx.translate(24, (a.top + a.bottom) / 2);
      ctx.rotate(-Math.PI / 2);
      drawParts(ctx, p.label, -partsWidth(ctx, p.label) / 2, 0, "#000");
      ctx.restore();

      // annotation boxes
      for (const b of p.boxes ?? []) {
        const w = partsWidth(ctx, b.parts) + 2 * b.pad;
        const cy = b.cy - oy;
        ctx.beginPath();
        ctx.roundRect(b.x, cy - b.h / 2, w, b.h, 5);
        ctx.fillStyle = b.fill;
        ctx.fill();
        ctx.lineWidth = 1;
        ctx.strokeStyle = b.stroke;
        ctx.stroke();
        drawParts(ctx, b.parts, b.x + b.pad, cy + b.base, "#000");
      }

      if (first) {
        const t: Part[] = [{ t: "Redshift", f: `bold 20px ${FONT}` }];
        drawParts(ctx, t, 553 - partsWidth(ctx, t) / 2, 29, "#000");
      }
      if (last) {
        const t: Part[] = [
          { t: "T", f: `bold 20px ${FONT}` },
          { t: "Universe", f: `italic 15px ${FONT}`, dy: 5 },
          { t: " [Gyr]", f: `bold 20px ${FONT}` },
        ];
        drawParts(ctx, t, 575 - partsWidth(ctx, t) / 2, 1069 - oy, "#000");
      }
      ctx.restore();
    },
  };
}

function makeConfig(p: Panel, i: number): any {
  const { first, last } = geometry(i);
  const tickFont = { family: FONT, size: 15 };
  const scales: any = {
    x: {
      type: "linear",
      min: tMin,
      max: tMax,
      afterBuildTicks: (s: any) => {
        s.ticks = tTicks.map((value) => ({ value }));
      },
      afterFit: (s: any) => {
        s.height = last ? 54 : 0;
      },
      grid: { color: GRID, lineWidth: 1, drawTicks: last, tickLength: 5, tickColor: "#000" },
      border: { display: false },
      ticks: { display: last, font: tickFont, color: "#000", padding: 3, maxRotation: 0, autoSkip: false },
    },
  };
  if (first) {
    scales.xTop = {
      type: "linear",
      axis: "x",
      position: "top",
      min: tMin,
      max: tMax,
      afterBuildTicks: (s: any) => {
        s.ticks = zAtT.map((value) => ({ value }));
      },
      afterFit: (s: any) => {
        s.height = 60;
      },
      grid: { drawOnChartArea: false, drawTicks: true, tickLength: 5, tickColor: "#000" },
      border: { display: false },
      ticks: {
        font: tickFont,
        color: "#000",
        padding: 3,
        maxRotation: 0,
        autoSkip: false,
        callback: (_v: number, idx: number) => zLabels[idx],
      },
    };
  }
  scales.y = {
    type: p.yType,
    min: p.yMin,
    max: p.yMax,
    afterBuildTicks: (s: any) => {
      s.ticks = p.yTicks.map((value) => ({ value }));
    },
    afterFit: (s: any) => {
      s.width = 81;
    },
    grid: { color: GRID, lineWidth: 1, tickLength: 5, tickColor: "#000" },
    border: { display: false },
    ticks: { font: tickFont, color: "#000", padding: 3, autoSkip: false, callback: (v: number) => p.yFmt(v) },
  };
  return {
    type: "line",
    data: { datasets: p.datasets.map((d) => ({ ...d, xAxisID: "x", yAxisID: "y" })) },
    options: {
      animation: false,
      responsive: false,
      devicePixelRatio: 1,
      events: [],
      layout: { padding: { left: 0, right: 11, top: first ? 0 : 10, bottom: last ? 0 : 10 } },
      plugins: {
        legend: { display: false },
        tooltip: { enabled: false },
        // all filled bands go underneath every line
        filler: { drawTime: "beforeDatasetsDraw" },
      },
      scales,
    },
    plugins: [makeDecor(p, i)],
  };
}

export default function App() {
  const refs = useRef<(HTMLCanvasElement | null)[]>([]);

  useEffect(() => {
    const charts = PANELS.map((p, i) => new Chart(refs.current[i] as HTMLCanvasElement, makeConfig(p, i)));
    return () => charts.forEach((c) => c.destroy());
  }, []);

  return (
    <div style={{ position: "absolute", left: 0, top: 0, width: 1080, height: 1080, background: "#fff" }}>
      {PANELS.map((p, i) => {
        const g = geometry(i);
        return (
          <canvas
            key={p.key}
            ref={(el) => {
              refs.current[i] = el;
            }}
            width={1080}
            height={g.h}
            style={{ position: "absolute", left: 0, top: g.oy }}
          />
        );
      })}
    </div>
  );
}
